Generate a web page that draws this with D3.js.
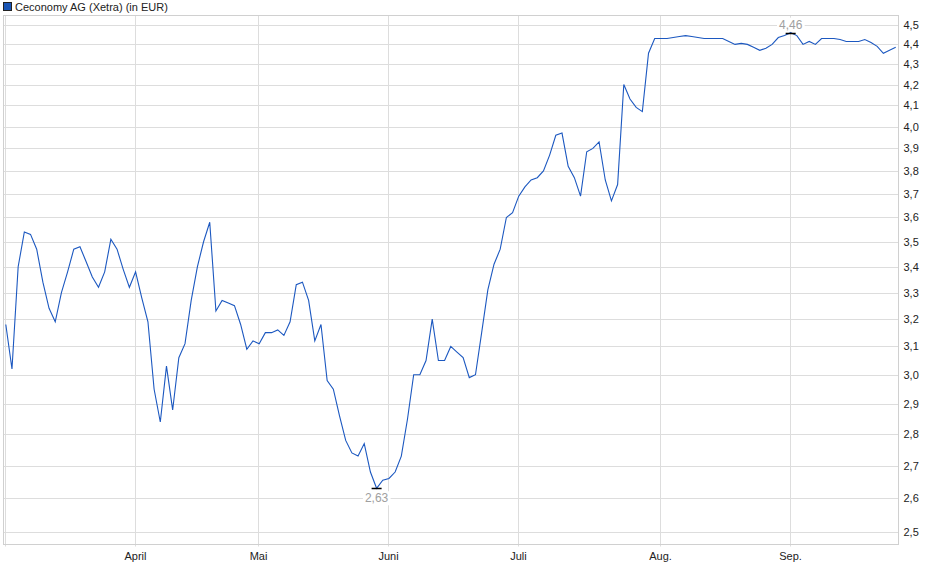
<!DOCTYPE html>
<html>
<head>
<meta charset="utf-8">
<script src="https://cdn.jsdelivr.net/npm/d3@7"></script>
<style>
  body { margin: 0; background: #fff; }
  text { font-family: "Liberation Sans", Arial, sans-serif; }
</style>
</head>
<body>
<div id="chart"></div>
<script>
// daily closing prices, one per trading day (Mar 3 - Sep 24)
var prices = [
  3.18, 3.02, 3.40, 3.54, 3.53, 3.47, 3.34, 3.24, 3.19, 3.30,
  3.38, 3.47, 3.48, 3.42, 3.36, 3.32, 3.38, 3.51, 3.47, 3.39,
  3.32, 3.38, 3.28, 3.19, 2.95, 2.84, 3.03, 2.88, 3.06, 3.11,
  3.27, 3.40, 3.50, 3.58, 3.23, 3.27, 3.26, 3.25, 3.18, 3.09,
  3.12, 3.11, 3.15, 3.15, 3.16, 3.14, 3.19, 3.33, 3.34, 3.27,
  3.12, 3.18, 2.98, 2.95, 2.86, 2.78, 2.74, 2.73, 2.77, 2.68,
  2.63, 2.655, 2.66, 2.68, 2.73, 2.85, 3.00, 3.00, 3.05, 3.20,
  3.05, 3.05, 3.10, 3.08, 3.06, 2.99, 3.00, 3.15, 3.31, 3.41,
  3.47, 3.60, 3.62, 3.69, 3.73, 3.76, 3.77, 3.80, 3.87, 3.96,
  3.97, 3.82, 3.77, 3.69, 3.885, 3.90, 3.93, 3.76, 3.67, 3.74,
  4.20, 4.13, 4.09, 4.07, 4.355, 4.43, 4.43, 4.43, 4.435, 4.44,
  4.445, 4.44, 4.435, 4.43, 4.43, 4.43, 4.43, 4.415, 4.40, 4.405,
  4.40, 4.385, 4.37, 4.38, 4.40, 4.435, 4.445, 4.46, 4.445, 4.40,
  4.415, 4.40, 4.43, 4.43, 4.43, 4.425, 4.415, 4.415, 4.415, 4.425,
  4.41, 4.39, 4.355, 4.37, 4.385
];
// first trading day of each month (index into prices)
var monthIdx = [0, 21, 41, 62, 83, 106, 127];
var monthLabels = ["", "April", "Mai", "Juni", "Juli", "Aug.", "Sep."];
var yTicks = [2.5, 2.6, 2.7, 2.8, 2.9, 3.0, 3.1, 3.2, 3.3, 3.4, 3.5,
              3.6, 3.7, 3.8, 3.9, 4.0, 4.1, 4.2, 4.3, 4.4, 4.5];
var title = "Ceconomy AG (Xetra) (in EUR)";

var width = 940, height = 579;
var plot = { left: 3.5, right: 898.5, top: 15.5, bottom: 544.5 };
var lineColor = "#1c58c0";
var gridColor = "#dddddd";

var de = d3.formatLocale({ decimal: ",", thousands: ".", grouping: [3], currency: ["", " €"] });
var fmt1 = de.format(".1f"), fmt2 = de.format(".2f");

var svg = d3.select("#chart").append("svg")
  .attr("width", width)
  .attr("height", height);

var x = d3.scaleLinear()
  .domain([0, prices.length - 1])
  .range([5.8, 5.8 + 6.18 * (prices.length - 1)]);
var y = d3.scaleLog()
  .domain([2.5, 4.5])
  .range([532, 25]);

function crisp(v) { return Math.round(v) + 0.5; }

// horizontal grid + right labels
var yAxis = d3.axisRight(y)
  .tickValues(yTicks)
  .tickFormat(fmt1)
  .tickSize(-(plot.right - plot.left))
  .tickPadding(5);
var gy = svg.append("g")
  .attr("transform", "translate(" + plot.right + ",0)")
  .call(yAxis);
gy.select(".domain").remove();
gy.selectAll(".tick").attr("transform", function(d) { return "translate(0," + crisp(y(d)) + ")"; });
gy.selectAll(".tick line").attr("stroke", gridColor);
gy.selectAll(".tick text")
  .attr("x", 5)
  .attr("fill", "#222")
  .attr("font-size", 11);

// vertical grid at month starts
var xAxis = d3.axisBottom(x)
  .tickValues(monthIdx)
  .tickFormat(function(d, i) { return monthLabels[i]; })
  .tickSize(-(plot.bottom - plot.top) - 2)
  .tickPadding(6);
var gx = svg.append("g")
  .attr("transform", "translate(0," + (plot.bottom + 2) + ")")
  .call(xAxis);
gx.select(".domain").remove();
gx.selectAll(".tick").attr("transform", function(d) { return "translate(" + crisp(x(d) - 1) + ",0)"; });
gx.selectAll(".tick line").attr("stroke", gridColor);
gx.selectAll(".tick text")
  .attr("fill", "#222")
  .attr("font-size", 11);

// frame
svg.append("rect")
  .attr("x", plot.left)
  .attr("y", plot.top)
  .attr("width", plot.right - plot.left)
  .attr("height", plot.bottom - plot.top)
  .attr("fill", "none")
  .attr("stroke", "#d0d0d0");

// price line
var line = d3.line()
  .x(function(d, i) { return x(i); })
  .y(function(d) { return y(d); });
svg.append("path")
  .datum(prices)
  .attr("d", line)
  .attr("fill", "none")
  .attr("stroke", lineColor)
  .attr("stroke-width", 1.1);

// min / max markers
var iMin = d3.minIndex(prices), iMax = d3.maxIndex(prices);
function marker(i, dy) {
  var g = svg.append("g");
  var tx = x(i), ty = y(prices[i]);
  var t = g.append("text")
    .attr("x", tx)
    .attr("y", ty + dy)
    .attr("text-anchor", "middle")
    .attr("font-size", 12)
    .attr("fill", "#a0a0a0")
    .text(fmt2(prices[i]));
  var bb = t.node().getBBox();
  g.insert("rect", "text")
    .attr("x", bb.x - 2).attr("y", bb.y)
    .attr("width", bb.width + 4).attr("height", bb.height)
    .attr("fill", "#fff");
  g.append("line")
    .attr("x1", tx - 5).attr("x2", tx + 5)
    .attr("y1", crisp(ty)).attr("y2", crisp(ty))
    .attr("stroke", "#000")
    .attr("stroke-width", 1.5);
}
marker(iMin, 14);
marker(iMax, -4);

// legend
svg.append("rect")
  .attr("x", 3.5).attr("y", 2.5)
  .attr("width", 8).attr("height", 8)
  .attr("fill", "#1a55b5")
  .attr("stroke", "#222");
svg.append("text")
  .attr("x", 15)
  .attr("y", 11)
  .attr("font-size", 11)
  .attr("fill", "#222")
  .text(title);
</script>
</body>
</html>
